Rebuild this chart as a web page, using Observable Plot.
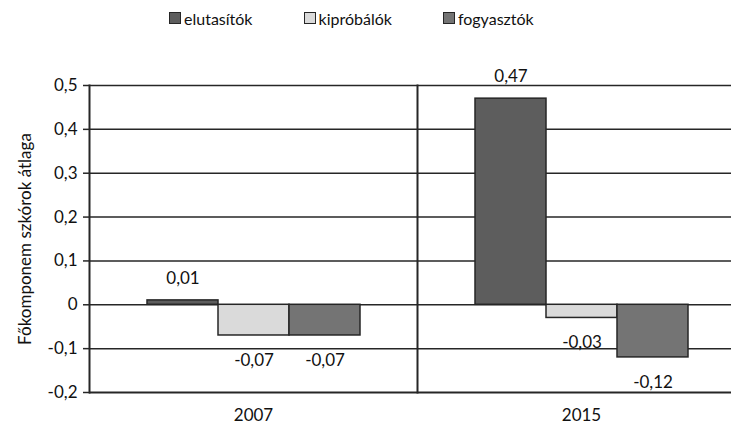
<!DOCTYPE html>
<html>
<head>
<meta charset="utf-8">
<script src="https://cdn.jsdelivr.net/npm/d3@7"></script>
<script src="https://cdn.jsdelivr.net/npm/@observablehq/plot@0.6"></script>
<style>
  html, body { margin: 0; padding: 0; background: #fff; overflow: hidden; }
  #wrap { width: 731px; height: 426px; overflow: hidden; position: relative; background: #fff; font-family: Lato, "Noto Sans", sans-serif; }
  #legend { height: 36px; display: flex; align-items: center; padding-left: 169px; gap: 51px; font-size: 16px; color: #111; }
  .item { display: flex; align-items: center; gap: 3px; }
  .sw { width: 10px; height: 10px; border: 1.5px solid #262626; display: inline-block; }
  #chart { width: 800px; }
  #chart svg { max-width: none !important; display: block; overflow: visible; }
</style>
</head>
<body>
<div id="wrap">
  <div id="legend"></div>
  <div id="chart"></div>
</div>
<script>
const years = ["2007", "2015"];
const series = ["elutasítók", "kipróbálók", "fogyasztók"];
const elutasitok = [0.01, 0.47];
const kiprobalok = [-0.07, -0.03];
const fogyasztok = [-0.07, -0.12];
const colors = ["#5d5d5d", "#dadada", "#747474"];
const yTicks = [-0.2, -0.1, 0, 0.1, 0.2, 0.3, 0.4, 0.5];

const valuesBySeries = [elutasitok, kiprobalok, fogyasztok];
const data = [];
years.forEach((yr, i) => {
  series.forEach((s, j) => data.push({year: yr, series: s, value: valuesBySeries[j][i]}));
});

const huLocale = d3.formatLocale({decimal: ",", thousands: " ", grouping: [3], currency: ["", ""], minus: "-"});
const fmt2 = huLocale.format(".2f");
const fmt1 = huLocale.format(".1~f");

const legend = document.getElementById("legend");
series.forEach((s, j) => {
  const it = document.createElement("div");
  it.className = "item";
  const sw = document.createElement("span");
  sw.className = "sw";
  sw.style.background = colors[j];
  const tx = document.createElement("span");
  tx.textContent = s;
  it.appendChild(sw);
  it.appendChild(tx);
  legend.appendChild(it);
});

const W = 800, ML = 89, MR = 55;
const gridLen = W - ML;

const chart = Plot.plot({
  width: W,
  height: 390,
  marginLeft: ML,
  marginRight: MR,
  marginTop: 49,
  marginBottom: 34,
  style: {fontFamily: "Lato, 'Noto Sans', sans-serif", fontSize: "17px", color: "#111", background: "transparent", maxWidth: "none", overflow: "visible"},
  fx: {domain: years, padding: 0, tickSize: 0, tickPadding: 16, label: null},
  x: {domain: series, paddingInner: 0, paddingOuter: 0.78, axis: null},
  y: {domain: [-0.2, 0.5]},
  color: {domain: series, range: colors},
  marks: [
    // horizontal gridlines running across both groups to the right edge
    Plot.axisY({ticks: yTicks.filter(t => t > -0.2), tickSize: -gridLen, tickFormat: () => "", label: null, stroke: "#262626", strokeWidth: 1.5}),
    Plot.rectY(data, {fx: "year", x: "series", y: "value", fill: "series", stroke: "#262626", strokeWidth: 1.5, inset: 0}),
    Plot.frame({anchor: "left", stroke: "#262626", strokeWidth: 2}),
    // bottom axis line
    Plot.axisY({ticks: [-0.2], tickSize: -gridLen, tickFormat: () => "", label: null, stroke: "#262626", strokeWidth: 2}),
    // y tick marks and labels
    Plot.axisY({ticks: yTicks, tickFormat: fmt1, tickSize: 6, tickPadding: 6, stroke: "#262626", strokeWidth: 1.5,
      label: "Főkomponem szkórok átlaga", labelAnchor: "center", labelOffset: 71, labelArrow: "none"}),
    Plot.text(data.filter(d => d.value >= 0), {fx: "year", x: "series", y: "value", text: d => fmt2(d.value), dy: -22, fill: "#111"}),
    Plot.text(data.filter(d => d.value < 0), {fx: "year", x: "series", y: "value", text: d => fmt2(d.value), dy: 25, fill: "#111"})
  ]
});
document.getElementById("chart").appendChild(chart);
</script>
</body>
</html>
